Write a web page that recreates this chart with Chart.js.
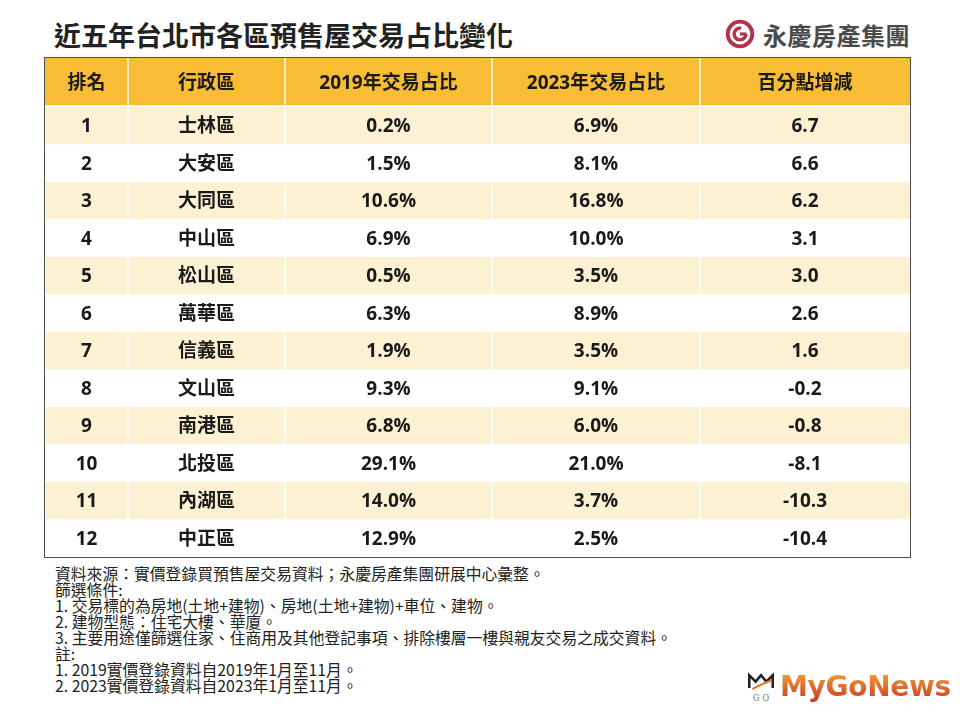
<!DOCTYPE html>
<html lang="zh-Hant">
<head>
<meta charset="utf-8">
<title>近五年台北市各區預售屋交易占比變化</title>
<script src="https://cdn.jsdelivr.net/npm/chart.js@4.4.0/dist/chart.umd.min.js"></script>
<style>
  body { margin: 0; background: #fff; font-family: "Noto Sans CJK TC", sans-serif; }
  #page { position: relative; width: 960px; height: 720px; overflow: hidden; background: #fff; }
  #title { position: absolute; left: 54px; top: 16px; font-size: 27px; font-weight: 700; color: #222; line-height: 38px; white-space: nowrap; }
  #brand { position: absolute; left: 725px; top: 19px; height: 30px; display: flex; align-items: center; white-space: nowrap; }
  #brand span { font-size: 24px; font-weight: 700; color: #4a4a4a; margin-left: 8px; letter-spacing: 0.5px; }
  #table { position: absolute; left: 44px; top: 57px; width: 865px; height: 499px; border: 1px solid #4d4d4d; }
  #table canvas { position: absolute; left: 0; }
  #head { top: 0; }
  #rows { top: 49px; }
  #notes { position: absolute; left: 55px; top: 566px; font-size: 15.8px; line-height: 16px; color: #222; white-space: nowrap; }
  #mygo { position: absolute; left: 746px; top: 670px; display: flex; align-items: center; }
  #mygo span { font-family: "DejaVu Sans", sans-serif; font-weight: 700; font-size: 28px; letter-spacing: -0.3px; margin-left: 4px;
    background: linear-gradient(#f6a540, #c9361f); -webkit-background-clip: text; background-clip: text; color: transparent; }
</style>
</head>
<body>
<div id="page">
  <div id="title">近五年台北市各區預售屋交易占比變化</div>
  <div id="brand">
    <svg width="30" height="30" viewBox="0 0 28 28">
      <circle cx="14" cy="14" r="11.5" fill="none" stroke="#b2334b" stroke-width="3.6"/>
      <path d="M19.5 14 A5.5 5.5 0 1 1 15 8.6" fill="none" stroke="#b2334b" stroke-width="3.2"/>
      <path d="M14 14 H20" stroke="#b2334b" stroke-width="3"/>
    </svg>
    <span>永慶房產集團</span>
  </div>
  <div id="table">
    <canvas id="head" width="865" height="49"></canvas>
    <canvas id="rows" width="865" height="450"></canvas>
  </div>
  <div id="notes">
    資料來源：實價登錄買預售屋交易資料；永慶房產集團研展中心彙整。<br>
    篩選條件:<br>
    1. 交易標的為房地(土地+建物)、房地(土地+建物)+車位、建物。<br>
    2. 建物型態：住宅大樓、華廈。<br>
    3. 主要用途僅篩選住家、住商用及其他登記事項、排除樓層一樓與親友交易之成交資料。<br>
    註:<br>
    1. 2019實價登錄資料自2019年1月至11月。<br>
    2. 2023實價登錄資料自2023年1月至11月。
  </div>
  <div id="mygo">
    <svg width="30" height="32" viewBox="0 0 28 30">
      <path d="M3 16 L3 4 L9 10 L14 4 L19 10 L25 4 L25 16" fill="none" stroke="#222" stroke-width="2.4"/>
      <path d="M6 17 Q14 12 24 9" fill="none" stroke="#e07a2a" stroke-width="2"/>
      <text x="14" y="28" font-size="8" text-anchor="middle" fill="#777" font-family="DejaVu Serif">G O</text>
    </svg>
    <span>MyGoNews</span>
  </div>
</div>
<script>
var headers = ["排名", "行政區", "2019年交易占比", "2023年交易占比", "百分點增減"];
var ranks = ["1", "2", "3", "4", "5", "6", "7", "8", "9", "10", "11", "12"];
var districts = ["士林區", "大安區", "大同區", "中山區", "松山區", "萬華區", "信義區", "文山區", "南港區", "北投區", "內湖區", "中正區"];
var share2019 = [0.2, 1.5, 10.6, 6.9, 0.5, 6.3, 1.9, 9.3, 6.8, 29.1, 14.0, 12.9];
var share2023 = [6.9, 8.1, 16.8, 10.0, 3.5, 8.9, 3.5, 9.1, 6.0, 21.0, 3.7, 2.5];
var pointChange = [6.7, 6.6, 6.2, 3.1, 3.0, 2.6, 1.6, -0.2, -0.8, -8.1, -10.3, -10.4];

// column edges of the table, in pixels from its left border
var colEdges = [0, 83, 240, 447, 655, 865];
var headColor = "#f9bd35";
var lightRow = "#fdf1d3";
var cellFont = '700 19px "Open Sans", "Noto Sans CJK TC", sans-serif';

function bodyText(col, row) {
  if (col === 0) return ranks[row];
  if (col === 1) return districts[row];
  if (col === 2) return share2019[row].toFixed(1) + "%";
  if (col === 3) return share2023[row].toFixed(1) + "%";
  return pointChange[row].toFixed(1);
}

function headText(col) {
  return headers[col];
}

function columnDatasets(rowCount, colorFor, bottom) {
  var last = colEdges.length - 2;
  return colEdges.slice(0, -1).map(function (start, c) {
    var data = [];
    var colors = [];
    for (var r = 0; r < rowCount; r++) {
      data.push([start, colEdges[c + 1]]);
      colors.push(colorFor(r));
    }
    return {
      data: data,
      backgroundColor: colors,
      borderColor: "#ffffff",
      borderWidth: { left: c === 0 ? 0 : 1, right: c === last ? 0 : 1, top: 0, bottom: bottom },
      borderSkipped: false,
      barPercentage: 1,
      categoryPercentage: 1,
      grouped: false
    };
  });
}

function textPlugin(getText) {
  return {
    id: "cellText",
    afterDatasetsDraw: function (chart) {
      var ctx = chart.ctx;
      ctx.save();
      ctx.font = cellFont;
      ctx.fillStyle = "#1a1a1a";
      ctx.textAlign = "center";
      ctx.textBaseline = "middle";
      chart.data.datasets.forEach(function (ds, c) {
        var x = chart.scales.x.getPixelForValue((colEdges[c] + colEdges[c + 1]) / 2);
        ds.data.forEach(function (v, r) {
          var y = chart.scales.y.getPixelForValue(r);
          ctx.fillText(getText(c, r), x, y + 1);
        });
      });
      ctx.restore();
    }
  };
}

function createTable(canvasId, labels, datasets, getText) {
  var ctx = document.getElementById(canvasId).getContext("2d");
  return new Chart(ctx, {
    type: "bar",
    data: { labels: labels, datasets: datasets },
    options: {
      indexAxis: "y",
      responsive: false,
      animation: false,
      events: [],
      devicePixelRatio: 1,
      layout: { padding: 0 },
      plugins: { legend: { display: false }, tooltip: { enabled: false } },
      scales: {
        x: { type: "linear", min: 0, max: colEdges[colEdges.length - 1], display: false },
        y: { display: false }
      }
    },
    plugins: [textPlugin(getText)]
  });
}

createTable("head", ["header"], columnDatasets(1, function () { return headColor; }, 2), headText);
createTable("rows", ranks, columnDatasets(ranks.length, function (r) { return r % 2 === 0 ? lightRow : "#ffffff"; }, 0), bodyText);
</script>
</body>
</html>
